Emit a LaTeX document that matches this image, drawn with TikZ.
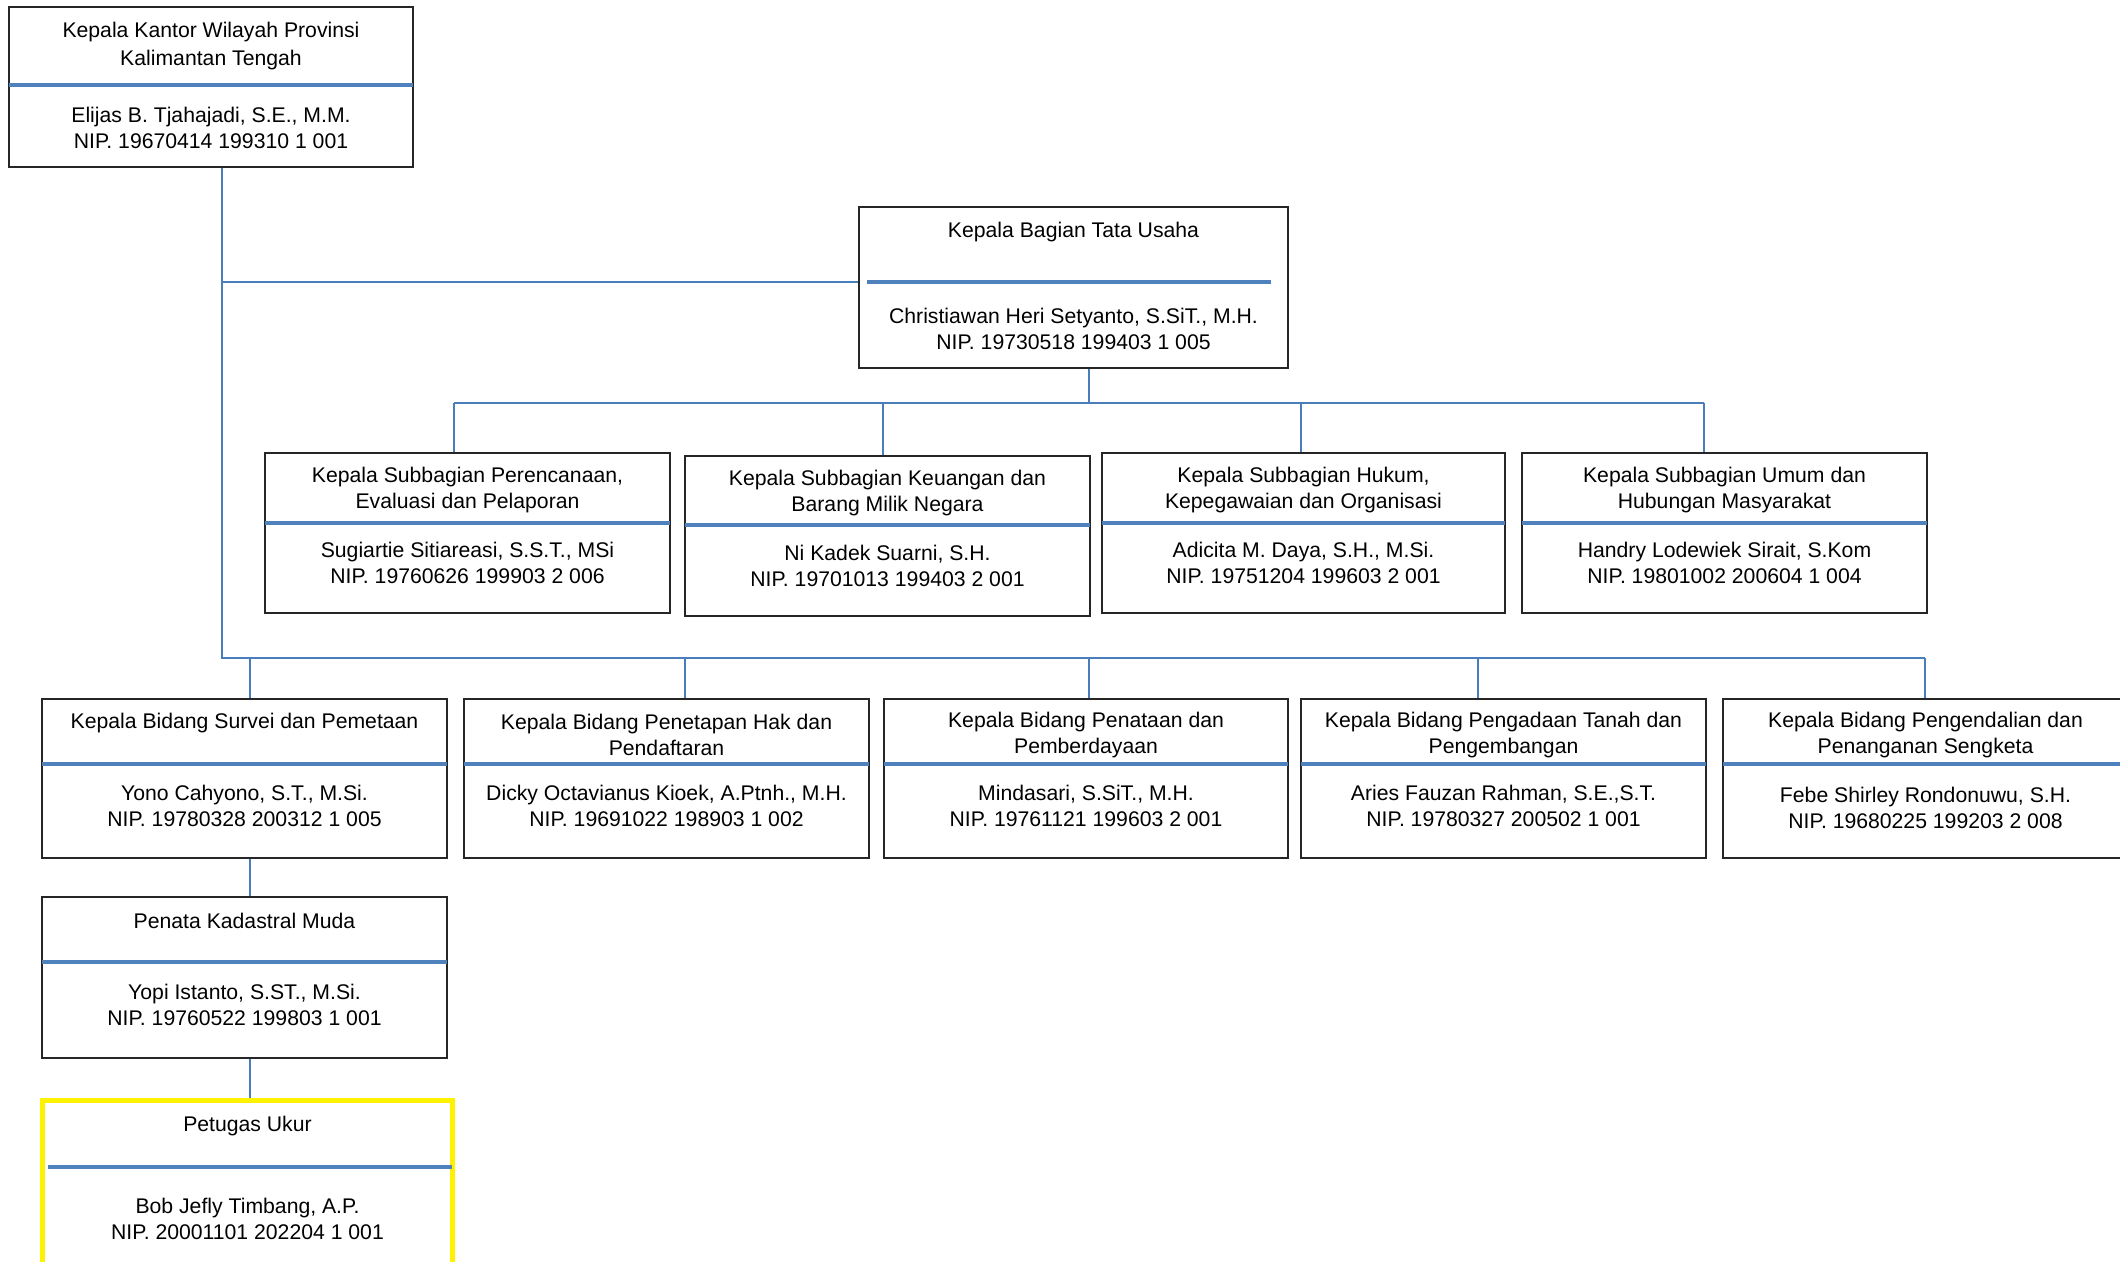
\documentclass[tikz,border=0pt]{standalone}
\usepackage{fontspec}
\setmainfont{Liberation Sans}
\usetikzlibrary{fit}
\definecolor{sepblue}{HTML}{4F81BD}
\definecolor{conblue}{HTML}{4A7EBB}
\definecolor{boxline}{HTML}{262626}
\begin{document}
\begin{tikzpicture}[x=0.5pt,y=-0.5pt,
  orgbox/.style={draw=boxline, line width=0.75pt, inner sep=0pt},
  hlbox/.style={draw=yellow, line width=2.6pt, inner sep=0pt},
  sepline/.style={draw=sepblue, line width=2pt},
  conn/.style={draw=conblue, line width=0.9pt},
  txt/.style={font=\fontsize{10.6}{12.6}\selectfont, align=center, inner sep=0pt},
  txtwide/.style={font=\fontsize{10.6}{14}\selectfont, align=center, inner sep=0pt}]
\useasboundingbox (0,0) rectangle (2120,1262);

% ---------- top: Kepala Kantor Wilayah ----------
\node[orgbox, fit={(9,7) (413,167)}] (kakanwil) {};
\draw[sepline] (9,85) -- (413,85);
\node[txtwide] (kakanwilH) at (211,46) {Kepala Kantor Wilayah Provinsi\\Kalimantan Tengah};
\node[txt] (kakanwilN) at (211,128) {Elijas B. Tjahajadi, S.E., M.M.\\NIP. 19670414 199310 1 001};

% ---------- Kepala Bagian Tata Usaha ----------
\node[orgbox, fit={(859,207) (1288,368)}] (tata) {};
\draw[sepline] (867,282) -- (1271,282);
\node[txt] (tataH) at (1073.5,232) {Kepala Bagian Tata Usaha};
\node[txt] (tataN) at (1073.5,329) {Christiawan Heri Setyanto, S.SiT., M.H.\\NIP. 19730518 199403 1 005};

% ---------- Subbagian row ----------
\node[orgbox, fit={(265,453) (670,613)}] (sb1) {};
\draw[sepline] (265,523) -- (670,523);
\node[txt] (sb1H) at (467.5,490) {Kepala Subbagian Perencanaan,\\Evaluasi dan Pelaporan};
\node[txt] (sb1N) at (467.5,563) {Sugiartie Sitiareasi, S.S.T., MSi\\NIP. 19760626 199903 2 006};

\node[orgbox, fit={(685,456) (1090,616)}] (sb2) {};
\draw[sepline] (685,525) -- (1090,525);
\node[txt] (sb2H) at (887.5,493) {Kepala Subbagian Keuangan dan\\Barang Milik Negara};
\node[txt] (sb2N) at (887.5,566) {Ni Kadek Suarni, S.H.\\NIP. 19701013 199403 2 001};

\node[orgbox, fit={(1102,453) (1505,613)}] (sb3) {};
\draw[sepline] (1102,523) -- (1505,523);
\node[txt] (sb3H) at (1303.5,490) {Kepala Subbagian Hukum,\\Kepegawaian dan Organisasi};
\node[txt] (sb3N) at (1303.5,563) {Adicita M. Daya, S.H., M.Si.\\NIP. 19751204 199603 2 001};

\node[orgbox, fit={(1522,453) (1927,613)}] (sb4) {};
\draw[sepline] (1522,523) -- (1927,523);
\node[txt] (sb4H) at (1724.5,490) {Kepala Subbagian Umum dan\\Hubungan Masyarakat};
\node[txt] (sb4N) at (1724.5,563) {Handry Lodewiek Sirait, S.Kom\\NIP. 19801002 200604 1 004};

% ---------- Bidang row ----------
\node[orgbox, fit={(42,699) (447,858)}] (b1) {};
\draw[sepline] (42,764) -- (447,764);
\node[txt] (b1H) at (244.5,723) {Kepala Bidang Survei dan Pemetaan};
\node[txt] (b1N) at (244.5,806) {Yono Cahyono, S.T., M.Si.\\NIP. 19780328 200312 1 005};

\node[orgbox, fit={(464,699) (869,858)}] (b2) {};
\draw[sepline] (464,764) -- (869,764);
\node[txt] (b2H) at (666.5,735) {Kepala Bidang Penetapan Hak dan\\Pendaftaran};
\node[txt] (b2N) at (666.5,806) {Dicky Octavianus Kioek, A.Ptnh., M.H.\\NIP. 19691022 198903 1 002};

\node[orgbox, fit={(884,699) (1288,858)}] (b3) {};
\draw[sepline] (884,764) -- (1288,764);
\node[txt] (b3H) at (1086,735) {Kepala Bidang Penataan dan\\Pemberdayaan};
\node[txt] (b3N) at (1086,806) {Mindasari, S.SiT., M.H.\\NIP. 19761121 199603 2 001};

\node[orgbox, fit={(1301,699) (1706,858)}] (b4) {};
\draw[sepline] (1301,764) -- (1706,764);
\node[txt] (b4H) at (1503.5,735) {Kepala Bidang Pengadaan Tanah dan\\Pengembangan};
\node[txt] (b4N) at (1503.5,806) {Aries Fauzan Rahman, S.E.,S.T.\\NIP. 19780327 200502 1 001};

\node[orgbox, fit={(1723,699) (2128,858)}] (b5) {};
\draw[sepline] (1723,764) -- (2128,764);
\node[txt] (b5H) at (1925.5,735) {Kepala Bidang Pengendalian dan\\Penanganan Sengketa};
\node[txt] (b5N) at (1925.5,808) {Febe Shirley Rondonuwu, S.H.\\NIP. 19680225 199203 2 008};

% ---------- Penata Kadastral Muda ----------
\node[orgbox, fit={(42,897) (447,1058)}] (penata) {};
\draw[sepline] (42,962) -- (447,962);
\node[txt] (penataH) at (244.5,921) {Penata Kadastral Muda};
\node[txt] (penataN) at (244.5,1005) {Yopi Istanto, S.ST., M.Si.\\NIP. 19760522 199803 1 001};

% ---------- Petugas Ukur (highlighted) ----------
\node[hlbox, fit={(42.5,1100.5) (452.5,1275)}] (petugas) {};
\draw[sepline] (48,1167) -- (452,1167);
\node[txt] (petugasH) at (247.5,1126) {Petugas Ukur};
\node[txt] (petugasN) at (247.5,1219) {Bob Jefly Timbang, A.P.\\NIP. 20001101 202204 1 001};

% ---------- connectors ----------
\coordinate (trunkbot) at (222,658);
\coordinate (bidend) at (1925,658);
\coordinate (tujoin) at (222,282);
\draw[conn] (kakanwil.south -| trunkbot) -- (trunkbot) -- (bidend);
\draw[conn] (tujoin) -- (tujoin -| tata.west);

\coordinate (sbbar) at (1089,403);
\draw[conn] (tata.south -| sbbar) -- (sbbar);
\coordinate (sbl) at (454,403);
\coordinate (sbr) at (1704,403);
\draw[conn] (sbl) -- (sbr);
\coordinate (c1) at (454,403);
\coordinate (c2) at (883,403);
\coordinate (c3) at (1301,403);
\coordinate (c4) at (1704,403);
\draw[conn] (c1) -- (c1 |- sb1.north);
\draw[conn] (c2) -- (c2 |- sb2.north);
\draw[conn] (c3) -- (c3 |- sb3.north);
\draw[conn] (c4) -- (c4 |- sb4.north);

\coordinate (d1) at (250,658);
\coordinate (d2) at (685,658);
\coordinate (d3) at (1089,658);
\coordinate (d4) at (1478,658);
\coordinate (d5) at (1925,658);
\draw[conn] (d1) -- (d1 |- b1.north);
\draw[conn] (d2) -- (d2 |- b2.north);
\draw[conn] (d3) -- (d3 |- b3.north);
\draw[conn] (d4) -- (d4 |- b4.north);
\draw[conn] (d5) -- (d5 |- b5.north);

\draw[conn] (b1.south -| d1) -- (d1 |- penata.north);
\draw[conn] (penata.south -| d1) -- (d1 |- petugas.north);
\end{tikzpicture}
\end{document}
